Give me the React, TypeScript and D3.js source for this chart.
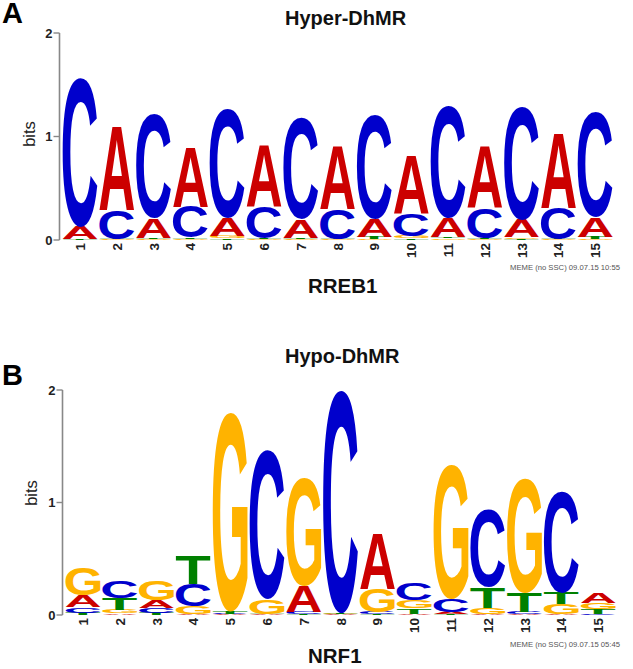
import React, { useMemo } from "react";
import * as d3 from "d3";

// ---------- data ----------
const positions = ["1","2","3","4","5","6","7","8","9","10","11","12","13","14","15"];
const yTicks = [0, 1, 2];
const nucleotides = ["A", "C", "G", "T"];

// Panel A: Hyper-DhMR (RREB1) – bits per letter per position
const hyperA = [0.12, 0.82, 0.19, 0.58, 0.17, 0.60, 0.18, 0.62, 0.17, 0.56, 0.19, 0.60, 0.17, 0.73, 0.19];
const hyperC = [1.44, 0.28, 1.00, 0.30, 1.05, 0.30, 0.98, 0.29, 1.00, 0.22, 1.08, 0.29, 1.10, 0.30, 1.02];
const hyperG = [0.003, 0.005, 0.005, 0.01, 0.025, 0.005, 0.005, 0.005, 0.005, 0.02, 0.015, 0.005, 0.015, 0.005, 0.005];
const hyperT = [0.005, 0.005, 0.015, 0.01, 0.015, 0.01, 0.01, 0.005, 0.02, 0.015, 0.015, 0.01, 0.01, 0.005, 0.02];

// Panel B: Hypo-DhMR (NRF1)
const hypoA = [0.10, 0.015, 0.07, 0.005, 0.005, 0.005, 0.23, 0.005, 0.50, 0.01, 0.02, 0.005, 0.005, 0.005, 0.09];
const hypoC = [0.05, 0.15, 0.04, 0.20, 0.005, 1.33, 0.02, 1.98, 0.02, 0.15, 0.12, 0.69, 0.02, 0.90, 0.01];
const hypoG = [0.25, 0.03, 0.18, 0.07, 1.77, 0.13, 0.96, 0.005, 0.21, 0.07, 1.20, 0.06, 1.02, 0.09, 0.06];
const hypoT = [0.02, 0.10, 0.02, 0.25, 0.02, 0.005, 0.005, 0.005, 0.005, 0.05, 0.005, 0.18, 0.17, 0.10, 0.04];

const colors: Record<string, string> = { A: "#CC0000", C: "#0000CC", G: "#FFB300", T: "#008000" };

const FONT = "'Liberation Sans', Arial, Helvetica, sans-serif";

type Metric = { L: number; R: number; A: number; D: number };

function useGlyphMetrics(): Record<string, Metric> {
  return useMemo(() => {
    const out: Record<string, Metric> = {};
    const canvas = document.createElement("canvas");
    const ctx = canvas.getContext("2d")!;
    ctx.font = `bold 100px ${FONT}`;
    nucleotides.forEach((n) => {
      const m = ctx.measureText(n);
      out[n] = {
        L: m.actualBoundingBoxLeft,
        R: m.actualBoundingBoxRight,
        A: m.actualBoundingBoxAscent,
        D: m.actualBoundingBoxDescent,
      };
    });
    return out;
  }, []);
}

type PanelProps = {
  label: string;
  title: string;
  name: string;
  stamp: string;
  data: Record<string, number[]>;
  axisX: number;
  xStart: number;
  yZero: number;
  yTop: number;
  labelY: number;
  titleY: number;
  nameY: number;
  stampY: number;
  bitsX: number;
  bitsY: number;
  metrics: Record<string, Metric>;
};

function LogoPanel(p: PanelProps) {
  const step = 36.8;
  const x = d3
    .scaleBand<string>()
    .domain(positions)
    .range([p.xStart - step / 2, p.xStart - step / 2 + step * positions.length])
    .paddingInner(0.05)
    .paddingOuter(0.025);
  const y = d3.scaleLinear().domain([0, 2]).range([p.yZero, p.yTop]);
  const bw = x.bandwidth();

  const glyphs: JSX.Element[] = [];
  positions.forEach((pos, i) => {
    const stack = nucleotides
      .map((n) => ({ n, v: p.data[n][i] }))
      .sort((a, b) => a.v - b.v);
    let acc = 0;
    stack.forEach(({ n, v }) => {
      const yb = y(acc);
      const yt = y(acc + v);
      acc += v;
      const h = yb - yt;
      if (h <= 0) return;
      const m = p.metrics[n];
      const sx = bw / (m.L + m.R);
      const sy = h / (m.A + m.D);
      const x0 = x(pos)!;
      glyphs.push(
        <text
          key={`${pos}-${n}`}
          transform={`translate(${x0 + m.L * sx},${yt + m.A * sy}) scale(${sx},${sy})`}
          fontFamily={FONT}
          fontWeight="bold"
          fontSize={100}
          fill={colors[n]}
        >
          {n}
        </text>
      );
    });
  });

  return (
    <g>
      <text x={2} y={p.labelY} fontFamily={FONT} fontWeight="bold" fontSize={29} fill="#000">
        {p.label}
      </text>
      <text x={285} y={p.titleY} fontFamily={FONT} fontWeight="bold" fontSize={20} fill="#111">
        {p.title}
      </text>
      <text
        transform={`translate(${p.bitsX},${p.bitsY}) rotate(-90)`}
        textAnchor="middle"
        fontFamily={FONT}
        fontSize={16.5}
        fill="#222"
      >
        bits
      </text>
      {/* y axis */}
      <line x1={p.axisX} x2={p.axisX} y1={y(0)} y2={y(2)} stroke="#888" strokeWidth={1.6} />
      {yTicks.map((t) => (
        <g key={t}>
          <line x1={p.axisX - 6} x2={p.axisX} y1={y(t)} y2={y(t)} stroke="#888" strokeWidth={1.4} />
          <text
            x={p.axisX - 7}
            y={y(t) + 4.5}
            textAnchor="end"
            fontFamily={FONT}
            fontWeight="bold"
            fontSize={13}
            fill="#222"
          >
            {t}
          </text>
        </g>
      ))}
      {glyphs}
      {/* x tick labels */}
      {positions.map((pos) => (
        <text
          key={pos}
          transform={`translate(${x(pos)! + bw / 2 + 5},${p.yZero + 3}) rotate(-90)`}
          textAnchor="end"
          fontFamily={FONT}
          fontWeight="bold"
          fontSize={13.5}
          fill="#222"
        >
          {pos}
        </text>
      ))}
      <text x={620} y={p.stampY} textAnchor="end" fontFamily={FONT} fontSize={7.5} fill="#555" textLength={110} lengthAdjust="spacingAndGlyphs">
        {p.stamp}
      </text>
      <text x={308} y={p.nameY} fontFamily={FONT} fontWeight="bold" fontSize={20.5} fill="#111">
        {p.name}
      </text>
    </g>
  );
}

export default function App() {
  const metrics = useGlyphMetrics();
  return (
    <svg
      width={633}
      height={669}
      viewBox="0 0 633 669"
      style={{ position: "absolute", left: 0, top: 0, background: "#fff" }}
    >
      <rect width={633} height={669} fill="#fff" />
      <LogoPanel
        label="A"
        title="Hyper-DhMR"
        name="RREB1"
        stamp="MEME (no SSC) 09.07.15 10:55"
        data={{ A: hyperA, C: hyperC, G: hyperG, T: hyperT }}
        axisX={59.5}
        xStart={80}
        yZero={240}
        yTop={33}
        labelY={23}
        titleY={25}
        nameY={293}
        stampY={270}
        bitsX={35}
        bitsY={134}
        metrics={metrics}
      />
      <LogoPanel
        label="B"
        title="Hypo-DhMR"
        name="NRF1"
        stamp="MEME (no SSC) 09.07.15 05:45"
        data={{ A: hypoA, C: hypoC, G: hypoG, T: hypoT }}
        axisX={62.5}
        xStart={83}
        yZero={615}
        yTop={390}
        labelY={385}
        titleY={363}
        nameY={663}
        stampY={647}
        bitsX={37}
        bitsY={493}
        metrics={metrics}
      />
    </svg>
  );
}
